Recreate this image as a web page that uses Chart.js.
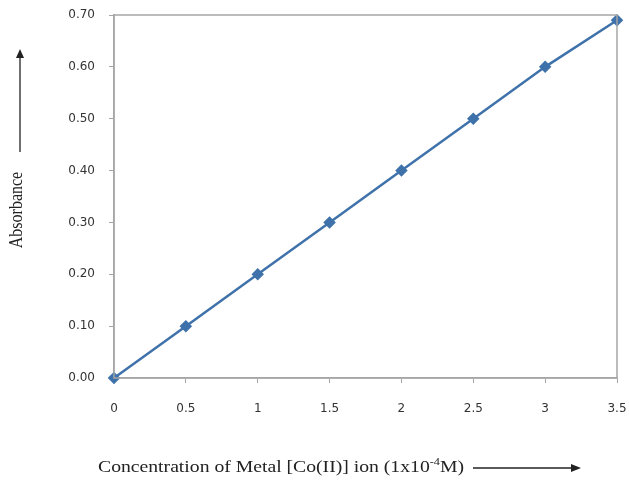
<!DOCTYPE html>
<html>
<head>
<meta charset="utf-8">
<script src="https://cdn.jsdelivr.net/npm/chart.js@4/dist/chart.umd.min.js"></script>
<style>
  html, body { margin: 0; padding: 0; background: #fff; }
  #wrap { width: 629px; height: 483px; }
</style>
</head>
<body>
<div id="wrap"><canvas id="chart" width="629" height="483"></canvas></div>
<script>
// Absorbance vs concentration of Co(II)
const concentration = [0, 0.5, 1, 1.5, 2, 2.5, 3, 3.5];
const absorbance = [0.00, 0.10, 0.20, 0.30, 0.40, 0.50, 0.60, 0.69];
const xTitle = 'Concentration of Metal [Co(II)] ion (1x10';
const yTitle = 'Absorbance';

const axisGray = '#a6a6a6';

// Frame, axis titles and arrows
const decorations = {
  id: 'decorations',
  afterDraw(chart) {
    const { ctx, chartArea } = chart;
    ctx.save();
    ctx.strokeStyle = axisGray;
    ctx.lineWidth = 1.5;
    ctx.strokeRect(chartArea.left, chartArea.top, chartArea.right - chartArea.left, chartArea.bottom - chartArea.top);

    ctx.fillStyle = '#222';
    ctx.strokeStyle = '#222';
    ctx.textBaseline = 'middle';
    ctx.textAlign = 'left';

    // x title with superscript (the source picture is stretched sideways)
    ctx.save();
    ctx.translate(98, 468);
    ctx.scale(1.23, 1);
    ctx.font = '16px "Liberation Serif", serif';
    ctx.fillText(xTitle, 0, 0);
    let w = ctx.measureText(xTitle).width;
    ctx.font = '10px "Liberation Serif", serif';
    ctx.fillText('-4', w, -6);
    w += ctx.measureText('-4').width;
    ctx.font = '16px "Liberation Serif", serif';
    ctx.fillText('M)', w, 0);
    ctx.restore();

    // x arrow
    ctx.lineWidth = 1.3;
    ctx.beginPath();
    ctx.moveTo(473, 468);
    ctx.lineTo(572, 468);
    ctx.stroke();
    ctx.beginPath();
    ctx.moveTo(581, 468);
    ctx.lineTo(571, 464);
    ctx.lineTo(571, 472);
    ctx.closePath();
    ctx.fill();

    // y title
    ctx.save();
    ctx.translate(17, 210);
    ctx.rotate(-Math.PI / 2);
    ctx.scale(1, 1.2);
    ctx.textAlign = 'center';
    ctx.font = '16px "Liberation Serif", serif';
    ctx.fillText(yTitle, 0, 0);
    ctx.restore();

    // y arrow
    ctx.beginPath();
    ctx.moveTo(20, 152);
    ctx.lineTo(20, 58);
    ctx.stroke();
    ctx.beginPath();
    ctx.moveTo(20, 49);
    ctx.lineTo(16, 58);
    ctx.lineTo(24, 58);
    ctx.closePath();
    ctx.fill();
    ctx.restore();
  }
};

new Chart(document.getElementById('chart'), {
  type: 'line',
  data: {
    datasets: [{
      data: concentration.map((c, i) => ({ x: c, y: absorbance[i] })),
      borderColor: '#3f72aa',
      backgroundColor: '#3f72aa',
      borderWidth: 2.5,
      pointStyle: 'rectRot',
      pointRadius: 4.5,
      pointHoverRadius: 4.5,
      tension: 0,
      clip: false
    }]
  },
  options: {
    responsive: false,
    animation: false,
    layout: { padding: { left: 0, top: 15, right: 12, bottom: 0 } },
    plugins: { legend: { display: false }, tooltip: { enabled: false } },
    scales: {
      x: {
        type: 'linear',
        min: 0,
        max: 3.5,
        afterFit(scale) {
          scale.height = 105;
          scale.paddingLeft = 0;
          scale.paddingRight = 0;
        },
        border: { color: axisGray, width: 1.5 },
        grid: { drawOnChartArea: false, color: axisGray, tickLength: 5 },
        ticks: {
          stepSize: 0.5,
          padding: 19,
          maxRotation: 0,
          color: '#333',
          font: { family: '"DejaVu Sans", sans-serif', size: 12 },
          callback: (v) => String(v)
        }
      },
      y: {
        min: 0,
        max: 0.7,
        afterFit(scale) {
          scale.width = 114;
          scale.paddingTop = 0;
          scale.paddingBottom = 0;
        },
        border: { color: axisGray, width: 1.5 },
        grid: { drawOnChartArea: false, color: axisGray, tickLength: 5 },
        ticks: {
          stepSize: 0.1,
          padding: 14,
          color: '#333',
          font: { family: '"DejaVu Sans", sans-serif', size: 12 },
          callback: (v) => v.toFixed(2)
        }
      }
    }
  },
  plugins: [decorations]
});
</script>
</body>
</html>
